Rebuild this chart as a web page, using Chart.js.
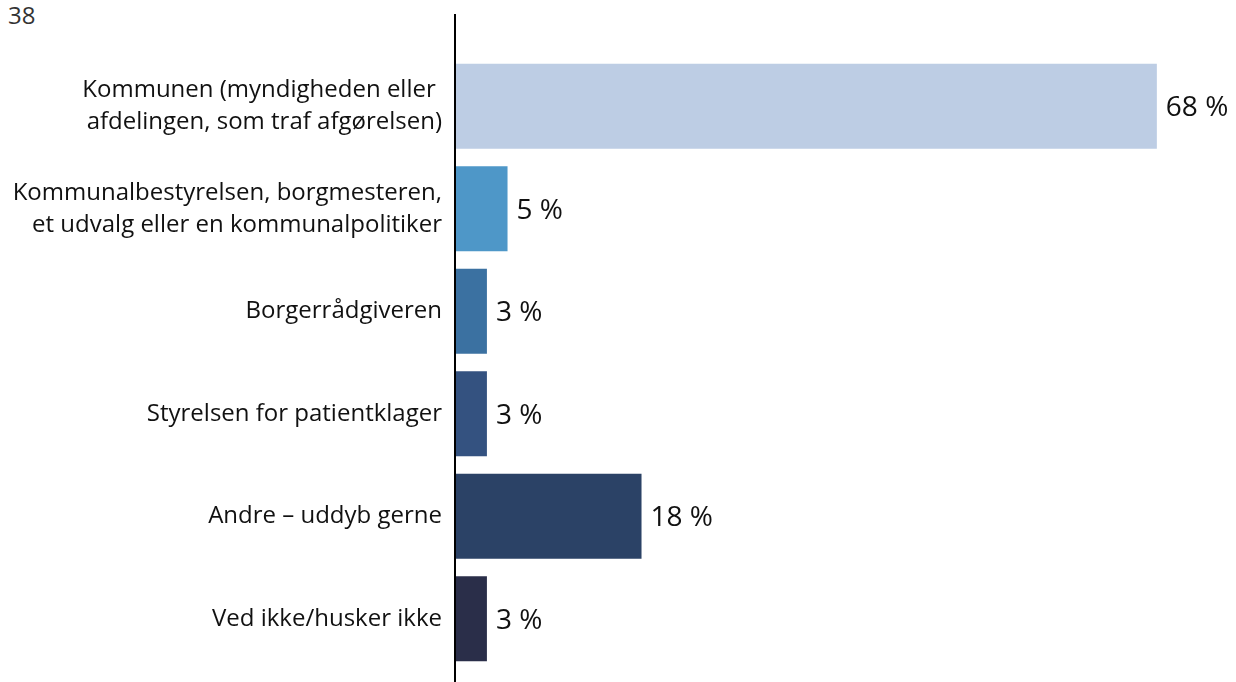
<!DOCTYPE html>
<html>
<head>
<meta charset="utf-8">
<script src="https://cdn.jsdelivr.net/npm/chart.js@4.4.1/dist/chart.umd.min.js"></script>
<style>
  html, body { margin: 0; padding: 0; background: #fff; }
  #wrap { position: relative; width: 1236px; height: 682px; overflow: hidden; }
  #pageNo { position: absolute; left: 8px; top: -2px; font: 24px "Open Sans", sans-serif; color: #333; }
  canvas { position: absolute; left: 0; top: 0; }
</style>
</head>
<body>
<div id="wrap">
  <div id="pageNo">38</div>
  <canvas id="chart" width="1236" height="682"></canvas>
</div>
<script>
/* Hvem klagede borgeren til - vandret søjlediagram */
const categories = [
  ['Kommunen (myndigheden eller ', 'afdelingen, som traf afgørelsen)'],
  ['Kommunalbestyrelsen, borgmesteren,', 'et udvalg eller en kommunalpolitiker'],
  'Borgerrådgiveren',
  'Styrelsen for patientklager',
  'Andre – uddyb gerne',
  'Ved ikke/husker ikke'
];
const values = [68, 5, 3, 3, 18, 3];
const barColors = ['#BDCDE4', '#4E97C8', '#3B71A1', '#345280', '#2B4266', '#2A2E49'];

const AXIS_X = 455;

// lodret aksestreg og værdietiketter
const extras = {
  id: 'extras',
  afterDatasetsDraw(chart) {
    const ctx = chart.ctx;
    ctx.save();
    ctx.strokeStyle = '#000';
    ctx.lineWidth = 2;
    ctx.beginPath();
    ctx.moveTo(AXIS_X, 14);
    ctx.lineTo(AXIS_X, 682);
    ctx.stroke();

    ctx.fillStyle = '#111';
    ctx.font = '28px "Open Sans", sans-serif';
    ctx.textBaseline = 'middle';
    ctx.textAlign = 'left';
    chart.getDatasetMeta(0).data.forEach((bar, i) => {
      ctx.fillText(values[i] + ' %', bar.x + 9, bar.y + 2);
    });
    ctx.restore();
  }
};

new Chart(document.getElementById('chart'), {
  type: 'bar',
  data: {
    labels: categories,
    datasets: [{
      data: values,
      backgroundColor: barColors,
      borderWidth: 0,
      categoryPercentage: 1,
      barPercentage: 0.83
    }]
  },
  options: {
    indexAxis: 'y',
    responsive: false,
    animation: false,
    layout: { padding: { top: 55, bottom: 12, right: 7, left: 0 } },
    plugins: { legend: { display: false }, tooltip: { enabled: false } },
    scales: {
      x: { display: false, min: 0, max: 75 },
      y: {
        grid: { display: false, drawTicks: false },
        border: { display: false },
        ticks: {
          color: '#111',
          padding: 14,
          font: { family: '"Open Sans", sans-serif', size: 24, lineHeight: 1.33 }
        },
        afterFit(scale) {
          scale.width = AXIS_X + 1;
          scale.paddingTop = 0;
          scale.paddingBottom = 0;
        }
      }
    }
  },
  plugins: [extras]
});
</script>
</body>
</html>
